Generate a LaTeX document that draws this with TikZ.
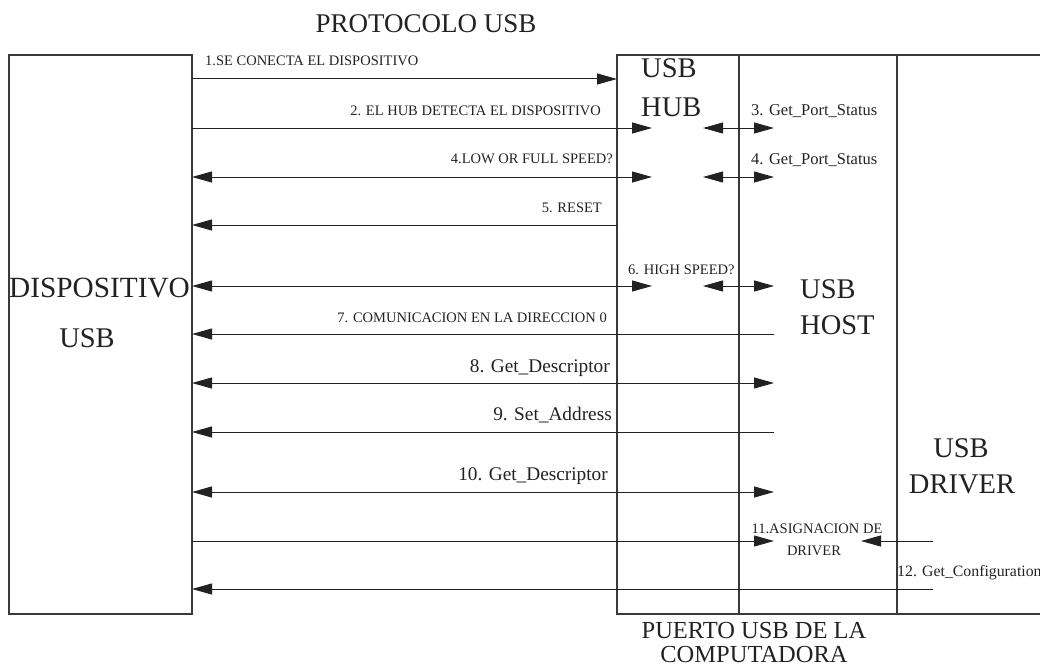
\documentclass[tikz,border=0pt]{standalone}
\usepackage{fontspec}
\setmainfont{Liberation Serif}
\usetikzlibrary{arrows.meta}
\definecolor{ink}{HTML}{222222}
\definecolor{edge}{HTML}{3A3A3A}
\tikzset{
  box/.style={draw=edge, line width=1.3pt, inner sep=0, outer sep=0, anchor=north west},
  wire/.style={draw=ink, line width=1pt},
  rarr/.style={wire, -{Triangle[length=20pt,width=11pt]}},
  larr/.style={wire, {Triangle[length=20pt,width=11pt]}-},
  darr/.style={wire, {Triangle[length=20pt,width=11pt]}-{Triangle[length=20pt,width=11pt]}},
  lbl/.style={text=ink, inner sep=0, font=\fontsize{14.5}{17}\selectfont},
  mid/.style={text=ink, inner sep=0, font=\fontsize{16.5}{19}\selectfont},
  big/.style={text=ink, inner sep=0, font=\fontsize{19.3}{22}\selectfont},
  huge/.style={text=ink, inner sep=0, font=\fontsize{28.5}{32}\selectfont},
}
\begin{document}
\begin{tikzpicture}[x=1pt,y=-1pt]
\useasboundingbox (0,0) rectangle (1040,666);
% boxes
\node[box, minimum width=183pt, minimum height=559pt] (dev) at (9,55) {};
\node[box, minimum width=122pt, minimum height=559pt] (hub) at (617,55) {};
\node[box, minimum width=158pt, minimum height=559pt] (host) at (739,55) {};
\node[box, minimum width=170pt, minimum height=559pt] (drv) at (897,55) {};
% titles
\node[text=ink, inner sep=0, font=\fontsize{27}{30}\selectfont, anchor=base] (title) at (426,33) {PROTOCOLO USB};
\node[text=ink, inner sep=0, font=\fontsize{29.3}{32}\selectfont, anchor=base west] (devA) at (9,297) {DISPOSITIVO};
\node[huge, anchor=base] (devB) at (87,347) {USB};
\node[huge, anchor=base west] (hubA) at (641,78) {USB};
\node[huge, anchor=base west] (hubB) at (641,117) {HUB};
\node[huge, anchor=base west] (hostA) at (800,298) {USB};
\node[huge, anchor=base west] (hostB) at (800,334) {HOST};
\node[huge, anchor=base] (drvA) at (961,457) {USB};
\node[huge, anchor=base] (drvB) at (962,493) {DRIVER};
\node[text=ink, inner sep=0, font=\fontsize{24.5}{28}\selectfont, anchor=base] (portA) at (754,638) {PUERTO USB DE LA};
\node[text=ink, inner sep=0, font=\fontsize{24.5}{28}\selectfont, anchor=base] (portB) at (754,662) {COMPUTADORA};
% rows
\coordinate (r1) at (0,79);
\coordinate (r2) at (0,128);
\coordinate (r4) at (0,177);
\coordinate (r5) at (0,225);
\coordinate (r6) at (0,286);
\coordinate (r7) at (0,334);
\coordinate (r8) at (0,383);
\coordinate (r9) at (0,432);
\coordinate (r10) at (0,492);
\coordinate (r11) at (0,541);
\coordinate (r12) at (0,589);
% columns
\coordinate (xa) at (652,0);
\coordinate (xb) at (703,0);
\coordinate (xc) at (774,0);
\coordinate (xd) at (861,0);
\coordinate (xe) at (933,0);
% connectors
\draw[rarr] (dev.east |- r1) -- (hub.west |- r1);
\draw[rarr] (dev.east |- r2) -- (xa |- r2);
\draw[darr] (xb |- r2) -- (xc |- r2);
\draw[darr] (dev.east |- r4) -- (xa |- r4);
\draw[darr] (xb |- r4) -- (xc |- r4);
\draw[larr] (dev.east |- r5) -- (hub.west |- r5);
\draw[darr] (dev.east |- r6) -- (xa |- r6);
\draw[darr] (xb |- r6) -- (xc |- r6);
\draw[larr] (dev.east |- r7) -- (xc |- r7);
\draw[darr] (dev.east |- r8) -- (xc |- r8);
\draw[larr] (dev.east |- r9) -- (xc |- r9);
\draw[darr] (dev.east |- r10) -- (xc |- r10);
\draw[rarr] (dev.east |- r11) -- (xc |- r11);
\draw[larr] (xd |- r11) -- (xe |- r11);
\draw[larr] (dev.east |- r12) -- (xe |- r12);
% labels
\node[lbl, anchor=base west] (l1) at (205,66) {1.SE CONECTA EL DISPOSITIVO};
\node[lbl, anchor=base east] (l2) at (601,115) {2. EL HUB DETECTA EL DISPOSITIVO};
\node[mid, anchor=base west] (l3) at (751,116) {3. Get\_Port\_Status};
\node[lbl, anchor=base east] (l4) at (613,163) {4.LOW OR FULL SPEED?};
\node[mid, anchor=base west] (l4b) at (751,164) {4. Get\_Port\_Status};
\node[lbl, anchor=base east] (l5) at (602,212) {5. RESET};
\node[lbl, anchor=base west] (l6) at (628,274) {6. HIGH SPEED?};
\node[lbl, anchor=base east] (l7) at (607,322) {7. COMUNICACION EN LA DIRECCION 0};
\node[big, anchor=base east] (l8) at (610,372) {8. Get\_Descriptor};
\node[big, anchor=base east] (l9) at (612,420) {9. Set\_Address};
\node[big, anchor=base east] (l10) at (608,480) {10. Get\_Descriptor};
\node[lbl, anchor=base] (l11a) at (817,533) {11.ASIGNACION DE};
\node[lbl, anchor=base] (l11b) at (814,555) {DRIVER};
\node[text=ink, inner sep=0, font=\fontsize{15.8}{18}\selectfont, anchor=base west] (l12) at (897,576) {12. Get\_Configuration};
\end{tikzpicture}
\end{document}
